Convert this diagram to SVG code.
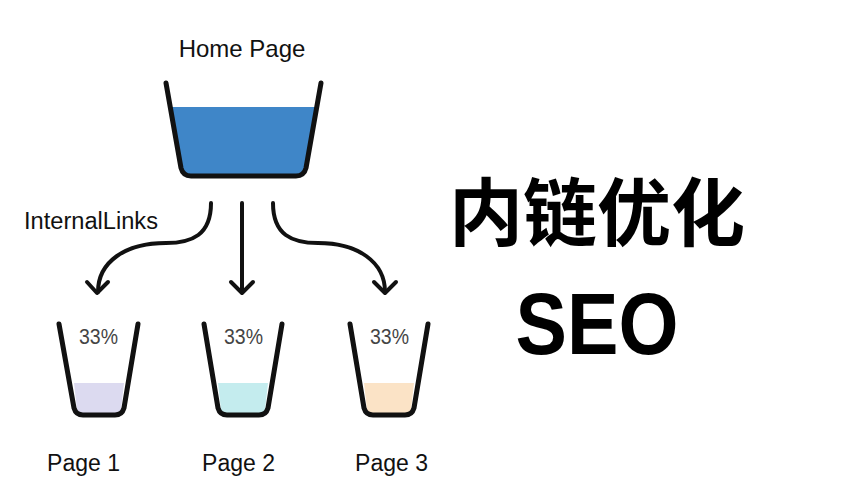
<svg xmlns="http://www.w3.org/2000/svg" width="861" height="489" viewBox="0 0 861 489">
<style>
.lbl{font-family:"Liberation Sans",Arial,sans-serif;fill:#111;}
.pct{font-family:"Liberation Sans",Arial,sans-serif;fill:#444;font-size:22px;text-anchor:middle;}
.cup{fill:none;stroke:#111;stroke-width:5;stroke-linecap:round;stroke-linejoin:round;}
.conn{fill:none;stroke:#111;stroke-width:4;stroke-linecap:round;stroke-linejoin:round;}
</style>
<rect width="861" height="489" fill="#fff"/>
<g id="home">
<text class="lbl" x="242" y="57" font-size="24" text-anchor="middle">Home Page</text>
<path d="M170,107 L317,107 L305,170 Q304,176 298,176 L189,176 Q183,176 182,170 Z" fill="#3f86c8"/>
<path class="cup" d="M166,83 L181,168 Q183,176 191,176 L296,176 Q304,176 306,168 L321,83"/>
</g>
<g id="connectors">
<path class="conn" d="M211,203 C211,235 192,243 166,243 C125,243 98,262 98,292"/>
<path class="conn" d="M87,282 L97,293 L108,282"/>
<path class="conn" d="M242,203 L242,292"/>
<path class="conn" d="M231,282 L242,293 L253,282"/>
<path class="conn" d="M273,203 C273,235 292,243 318,243 C358,243 385,262 385,292"/>
<path class="conn" d="M374,282 L385,293 L396,282"/>
<text class="lbl" x="24" y="229" font-size="23" textLength="134" lengthAdjust="spacingAndGlyphs">InternalLinks</text>
</g>
<g id="page1">
<path d="M74,383 L124,383 L121,410 Q120,414 116,414 L82,414 Q78,414 77,410 Z" fill="#dcdaf0"/>
<path class="cup" d="M59,324 L74,408 Q76,415 83,415 L115,415 Q122,415 124,408 L138,324"/>
<text class="pct" x="98.5" y="344" textLength="39" lengthAdjust="spacingAndGlyphs">33%</text>
<text class="lbl" x="83.5" y="471" font-size="23" text-anchor="middle">Page 1</text>
</g>
<g id="page2">
<path d="M218,383 L268,383 L265,410 Q264,414 260,414 L226,414 Q222,414 221,410 Z" fill="#c4ecee"/>
<path class="cup" d="M204,324 L218,408 Q220,415 227,415 L259,415 Q266,415 268,408 L282,324"/>
<text class="pct" x="243.5" y="344" textLength="39" lengthAdjust="spacingAndGlyphs">33%</text>
<text class="lbl" x="238.5" y="471" font-size="23" text-anchor="middle">Page 2</text>
</g>
<g id="page3">
<path d="M364,383 L414,383 L411,410 Q410,414 406,414 L372,414 Q368,414 367,410 Z" fill="#fbe3c6"/>
<path class="cup" d="M350,324 L364,408 Q366,415 373,415 L405,415 Q412,415 414,408 L428,324"/>
<text class="pct" x="389.5" y="344" textLength="39" lengthAdjust="spacingAndGlyphs">33%</text>
<text class="lbl" x="391.5" y="471" font-size="23" text-anchor="middle">Page 3</text>
</g>
<g id="title">
<text x="597" y="240" font-family="'Noto Sans CJK SC',sans-serif" font-weight="bold" font-size="74" text-anchor="middle" fill="#000">内链优化</text>
<text x="597" y="354" font-family="'Liberation Sans',Arial,sans-serif" font-weight="bold" font-size="87" text-anchor="middle" fill="#000" textLength="163" lengthAdjust="spacingAndGlyphs">SEO</text>
</g>
</svg>
